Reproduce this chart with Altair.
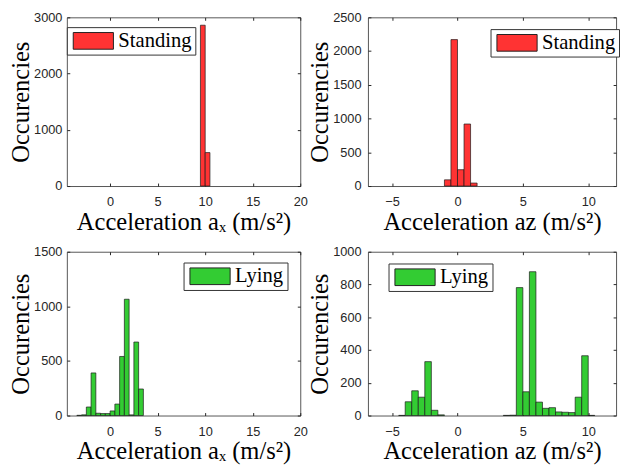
import altair as alt
import pandas as pd

# ---- data ----
tl_start = [9.5, 10.0]
tl_count = [2860, 595]

tr_start = [-1.0, -0.5, 0.0, 0.5, 1.0]
tr_count = [92, 2170, 242, 919, 44]

bl_start = [-3.5, -3.0, -2.5, -2.0, -1.5, -1.0, -0.5, 0.0, 0.5, 1.0, 1.5, 2.0, 2.5, 3.0]
bl_count = [2, 6, 78, 390, 21, 18, 18, 42, 105, 541, 1065, 6, 673, 243]

br_start = [-4.5, -4.0, -3.5, -3.0, -2.5, -2.0, -1.5, 3.5, 4.0, 4.5, 5.0, 5.5, 6.0, 6.5,
            7.0, 7.5, 8.0, 8.5, 9.0, 9.5, 10.0]
br_count = [1, 84, 151, 112, 329, 32, 4, 1, 2, 781, 145, 878, 82, 44,
            48, 22, 20, 18, 112, 365, 1]

BIN = 0.5
x_ticks_ax = [0, 5, 10, 15, 20]
x_ticks_az = [-5, 0, 5, 10]
y_ticks_tl = [0, 1000, 2000, 3000]
y_ticks_tr = [0, 500, 1000, 1500, 2000, 2500]
y_ticks_bl = [0, 500, 1000, 1500]
y_ticks_br = [0, 200, 400, 600, 800, 1000]

RED = "#FF3333"
GREEN = "#33CC33"
TITLE_AX = "Acceleration aₓ (m/s²)"
TITLE_AZ = "Acceleration az (m/s²)"
# wide legend swatch: 41 x 17 px for symbolSize 289 (unit = 8.5 px)
RECT = "M-0.88,-1L3.94,-1L3.94,1L-0.88,1Z"


def panel(starts, counts, xdom, xticks, ydom, yticks, xtitle, label, color, w, h, lx, ly,
          lpad):
    df = pd.DataFrame({
        "x0": starts,
        "x1": [s + BIN for s in starts],
        "count": counts,
        "base": [0] * len(starts),
        "label": [label] * len(starts),
    })
    xs = alt.Scale(domain=xdom, nice=False, zero=False)
    ys = alt.Scale(domain=ydom, nice=False)
    bars = alt.Chart(df).mark_rect(stroke="#1a1a1a", strokeWidth=0.7, opacity=1).encode(
        x=alt.X("x0:Q", scale=xs, title=xtitle,
                axis=alt.Axis(values=xticks, format="d", orient="bottom", offset=-3, tickSize=3,
                              labelPadding=10, titlePadding=1, labelFlush=False)),
        x2="x1:Q",
        y=alt.Y("count:Q", scale=ys, title="Occurencies",
                axis=alt.Axis(values=yticks, format="d", orient="left", offset=-3, tickSize=3,
                              labelPadding=lpad, titlePadding=0, labelFlush=False)),
        y2="base:Q",
        color=alt.Color("label:N", scale=alt.Scale(domain=[label], range=[color]),
                        legend=alt.Legend(title=None, orient="none", legendX=lx, legendY=ly,
                                          strokeColor="#333333", fillColor="white",
                                          padding=3.5, symbolType=RECT, symbolSize=289,
                                          symbolStrokeColor="#222222", symbolStrokeWidth=1,
                                          symbolOpacity=1, labelFont="Liberation Serif",
                                          labelFontSize=21, labelColor="black",
                                          labelOffset=28, cornerRadius=0)),
    )
    frame = alt.Chart(df).mark_rect(opacity=0).encode(
        x=alt.X("x0:Q", scale=xs, title=None,
                axis=alt.Axis(values=xticks, orient="top", labels=False, offset=-3, tickSize=3)),
        x2="x1:Q",
        y=alt.Y("count:Q", scale=ys, title=None,
                axis=alt.Axis(values=yticks, orient="right", labels=False, offset=-3, tickSize=3)),
        y2="base:Q",
    )
    return alt.layer(bars, frame).resolve_axis(x="independent", y="independent").properties(
        width=w, height=h)


tl = panel(tl_start, tl_count, [-4.55, 20], x_ticks_ax, [0, 3000], y_ticks_tl, TITLE_AX,
           "Standing", RED, 238, 172, 0, 10, 5)
tr = panel(tr_start, tr_count, [-6.85, 12.13], x_ticks_az, [0, 2500], y_ticks_tr, TITLE_AZ,
           "Standing", RED, 253, 172, 125, 12, 7)
bl = panel(bl_start, bl_count, [-4.55, 20], x_ticks_ax, [0, 1500], y_ticks_bl, TITLE_AX,
           "Lying", GREEN, 238, 167, 119, 11, 5)
br = panel(br_start, br_count, [-6.85, 12.13], x_ticks_az, [0, 1000], y_ticks_br, TITLE_AZ,
           "Lying", GREEN, 253, 167, 21, 12, 7)

chart = alt.concat(
    tl, tr, bl, br, columns=2, bounds="flush", spacing={"row": 67, "column": 69}
).resolve_scale(
    color="independent"
).configure(
    padding={"left": 0, "top": -2, "right": 0, "bottom": 0},
    background="white",
).configure_view(
    stroke="#555555", strokeWidth=1
).configure_axis(
    domain=False, grid=False,
    labelFont="Liberation Sans", labelFontSize=13, labelColor="#262626",
    tickColor="#262626", tickWidth=1,
    titleFont="Liberation Serif", titleFontSize=25, titleFontWeight="normal",
    titleColor="black",
)

chart.save("out.html", embed_options={"renderer": "svg", "actions": False})
